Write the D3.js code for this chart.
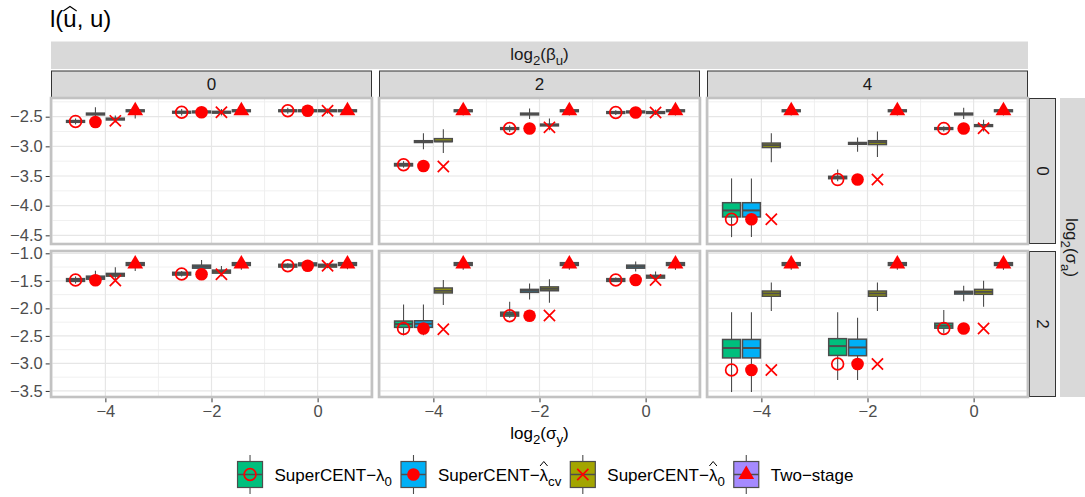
<!DOCTYPE html>
<html>
<head>
<meta charset="utf-8">
<script src="https://cdn.jsdelivr.net/npm/d3@7"></script>
<style>
  body { margin: 0; background: #fff; }
  svg text { font-family: "Liberation Sans", Arial, Helvetica, sans-serif; }
</style>
</head>
<body>
<div id="chart"></div>
<script>
// ── data ──
const sigmaYLevels = [-4, -2, 0];
const betaULevels = [0, 2, 4];
const sigmaALevels = [0, 2];
const methodFills = ['#00BF7D', '#00B0F6', '#A3A500', '#A58AFF'];
const methodShapes = ['openCircle', 'dot', 'cross', 'triangle'];
const xTicks = [-4, -2, 0];
const yTicksTop = [-4.5, -4.0, -3.5, -3.0, -2.5];
const yTicksBottom = [-3.5, -3.0, -2.5, -2.0, -1.5, -1.0];

// boxplot stats [lower whisker, q1, median, q3, upper whisker]
// per log2(sigma_y) group (-4, -2, 0), methods in legend order
const boxA0B0 = [
  [[-2.63, -2.595, -2.58, -2.565, -2.53], [-2.51, -2.47, -2.455, -2.44, -2.34], [-2.60, -2.555, -2.54, -2.525, -2.48], [-2.53, -2.415, -2.40, -2.385, -2.34]],
  [[-2.48, -2.44, -2.425, -2.41, -2.37], [-2.47, -2.435, -2.42, -2.405, -2.37], [-2.48, -2.44, -2.425, -2.41, -2.37], [-2.46, -2.415, -2.40, -2.385, -2.35]],
  [[-2.45, -2.415, -2.40, -2.385, -2.35], [-2.45, -2.415, -2.40, -2.385, -2.35], [-2.45, -2.415, -2.40, -2.385, -2.36], [-2.46, -2.415, -2.40, -2.385, -2.35]]
];
const ptsA0B0 = [[-2.58, -2.59, -2.57, -2.40], [-2.425, -2.425, -2.425, -2.40], [-2.40, -2.40, -2.40, -2.40]];

const boxA0B2 = [
  [[-3.36, -3.33, -3.31, -3.29, -3.25], [-3.05, -2.935, -2.92, -2.905, -2.78], [-3.11, -2.92, -2.915, -2.87, -2.71], [-2.48, -2.415, -2.40, -2.385, -2.35]],
  [[-2.76, -2.715, -2.70, -2.685, -2.65], [-2.54, -2.47, -2.455, -2.44, -2.36], [-2.73, -2.655, -2.64, -2.625, -2.53], [-2.48, -2.415, -2.40, -2.385, -2.35]],
  [[-2.47, -2.445, -2.43, -2.415, -2.39], [-2.46, -2.435, -2.42, -2.405, -2.37], [-2.47, -2.445, -2.43, -2.415, -2.38], [-2.48, -2.415, -2.40, -2.385, -2.35]]
];
const ptsA0B2 = [[-3.31, -3.33, -3.34, -2.40], [-2.70, -2.70, -2.68, -2.40], [-2.43, -2.43, -2.43, -2.40]];

const boxA0B4 = [
  [[-4.53, -4.19, -4.08, -3.95, -3.54], [-4.53, -4.19, -4.08, -3.95, -3.54], [-3.27, -3.02, -2.98, -2.945, -2.78], [-2.48, -2.415, -2.40, -2.385, -2.35]],
  [[-3.59, -3.545, -3.53, -3.505, -3.39], [-3.09, -2.965, -2.95, -2.935, -2.85], [-3.18, -2.97, -2.93, -2.905, -2.75], [-2.48, -2.415, -2.40, -2.385, -2.35]],
  [[-2.75, -2.715, -2.70, -2.685, -2.66], [-2.54, -2.47, -2.455, -2.44, -2.35], [-2.75, -2.665, -2.65, -2.635, -2.55], [-2.48, -2.415, -2.40, -2.385, -2.35]]
];
const ptsA0B4 = [[-4.23, -4.23, -4.23, -2.40], [-3.56, -3.56, -3.56, -2.40], [-2.70, -2.70, -2.695, -2.40]];

const boxA2B0 = [
  [[-1.55, -1.51, -1.485, -1.46, -1.42], [-1.50, -1.47, -1.443, -1.415, -1.315], [-1.50, -1.415, -1.39, -1.365, -1.255], [-1.32, -1.22, -1.195, -1.17, -1.13]],
  [[-1.42, -1.395, -1.37, -1.345, -1.32], [-1.29, -1.27, -1.243, -1.215, -1.12], [-1.42, -1.36, -1.333, -1.305, -1.23], [-1.30, -1.22, -1.195, -1.17, -1.13]],
  [[-1.27, -1.25, -1.225, -1.20, -1.18], [-1.25, -1.225, -1.20, -1.175, -1.15], [-1.27, -1.25, -1.225, -1.20, -1.18], [-1.29, -1.22, -1.195, -1.17, -1.13]]
];
const ptsA2B0 = [[-1.485, -1.49, -1.495, -1.195], [-1.375, -1.38, -1.38, -1.195], [-1.225, -1.225, -1.225, -1.195]];

const boxA2B2 = [
  [[-2.49, -2.345, -2.285, -2.23, -1.93], [-2.49, -2.345, -2.28, -2.225, -1.93], [-1.94, -1.72, -1.68, -1.63, -1.485], [-1.30, -1.22, -1.195, -1.17, -1.13]],
  [[-2.17, -2.14, -2.105, -2.07, -1.88], [-1.84, -1.71, -1.68, -1.655, -1.55], [-1.90, -1.68, -1.645, -1.61, -1.47], [-1.30, -1.22, -1.195, -1.17, -1.13]],
  [[-1.52, -1.51, -1.485, -1.46, -1.44], [-1.33, -1.27, -1.243, -1.215, -1.15], [-1.49, -1.45, -1.425, -1.40, -1.33], [-1.30, -1.22, -1.195, -1.17, -1.13]]
];
const ptsA2B2 = [[-2.365, -2.365, -2.38, -1.195], [-2.135, -2.135, -2.13, -1.195], [-1.485, -1.485, -1.485, -1.195]];

const boxA2B4 = [
  [[-3.52, -2.90, -2.72, -2.565, -2.07], [-3.52, -2.90, -2.72, -2.565, -2.07], [-2.05, -1.78, -1.73, -1.685, -1.53], [-1.30, -1.22, -1.195, -1.17, -1.13]],
  [[-3.30, -2.855, -2.685, -2.55, -2.07], [-3.30, -2.86, -2.71, -2.56, -2.17], [-2.05, -1.78, -1.73, -1.685, -1.53], [-1.30, -1.22, -1.195, -1.17, -1.13]],
  [[-2.455, -2.36, -2.315, -2.27, -2.03], [-1.87, -1.74, -1.715, -1.69, -1.59], [-1.97, -1.745, -1.70, -1.655, -1.50], [-1.30, -1.22, -1.195, -1.17, -1.13]]
];
const ptsA2B4 = [[-3.12, -3.12, -3.12, -1.195], [-3.01, -3.01, -3.01, -1.195], [-2.365, -2.365, -2.365, -1.195]];

const panelBoxes = [[boxA0B0, boxA0B2, boxA0B4], [boxA2B0, boxA2B2, boxA2B4]];
const panelPts = [[ptsA0B0, ptsA0B2, ptsA0B4], [ptsA2B0, ptsA2B2, ptsA2B4]];

// ── layout ──
const W = 1085, H = 497;
const panelLeft = 51, panelW = 321, colGap = 7;
const panelTops = [98, 251], panelH = 146;
const yDomains = [[-4.646, -2.185], [-3.61, -0.958]];
const yTickSets = [yTicksTop, yTicksBottom];
const RED = '#FF0000';
const BOX_LINE = '#4D4D4D';
const TICK_FONT = 16.5, STRIP_FONT = 17, LEG_FONT = 17;

const svg = d3.select('#chart').append('svg')
  .attr('width', W).attr('height', H);
svg.append('rect').attr('width', W).attr('height', H).attr('fill', '#fff');

const colLeft = ci => panelLeft + ci * (panelW + colGap);
const xScales = betaULevels.map((b, ci) =>
  d3.scaleLinear().domain([-5.025, 1.025]).range([colLeft(ci), colLeft(ci) + panelW]));
const yScales = sigmaALevels.map((a, ri) =>
  d3.scaleLinear().domain(yDomains[ri]).range([panelTops[ri] + panelH, panelTops[ri]]));

// dodge of the four methods inside one log2(sigma_y) group
const dodge = d3.scaleBand().domain(d3.range(4)).range([-0.75, 0.75]);
const boxWidth = dodge.bandwidth() * 0.9;

// text with subscripts: parts = [{t, sub}]
function richText(sel, parts, size) {
  let inSub = false;
  parts.forEach(p => {
    const ts = sel.append('tspan').text(p.t);
    if (p.sub && !inSub) { ts.attr('dy', size * 0.3).attr('font-size', size * 0.78); inSub = true; }
    else if (p.sub) { ts.attr('font-size', size * 0.78); }
    else if (inSub) { ts.attr('dy', -size * 0.3); inSub = false; }
  });
  return sel;
}

function drawPoint(g, shape, cx, cy) {
  if (shape === 'openCircle') {
    g.append('circle').attr('cx', cx).attr('cy', cy).attr('r', 5.9)
      .attr('fill', 'none').attr('stroke', RED).attr('stroke-width', 1.7);
  } else if (shape === 'dot') {
    g.append('circle').attr('cx', cx).attr('cy', cy).attr('r', 6.3).attr('fill', RED);
  } else if (shape === 'cross') {
    const s = 5.6;
    g.append('path')
      .attr('d', `M${cx - s},${cy - s}L${cx + s},${cy + s}M${cx + s},${cy - s}L${cx - s},${cy + s}`)
      .attr('stroke', RED).attr('stroke-width', 1.7).attr('fill', 'none');
  } else {
    g.append('path')
      .attr('d', d3.symbol().type(d3.symbolTriangle).size(108)())
      .attr('transform', `translate(${cx},${cy})`)
      .attr('fill', RED);
  }
}

// ── title ──
const title = svg.append('text').attr('x', 50).attr('y', 27)
  .attr('font-size', 24).attr('fill', '#000').text('l(u, u)');
{
  const node = title.node();
  const p = node.getStartPositionOfChar(2);
  const e = node.getEndPositionOfChar(2);
  const mid = (p.x + e.x) / 2;
  svg.append('path')
    .attr('d', `M${p.x},${p.y - 16}L${mid},${p.y - 20.5}L${e.x},${p.y - 16}`)
    .attr('fill', 'none').attr('stroke', '#000').attr('stroke-width', 1.1);
}

// ── outer strips ──
const gridRight = colLeft(2) + panelW;
svg.append('rect').attr('x', panelLeft).attr('y', 41.5)
  .attr('width', gridRight - panelLeft).attr('height', 27.5).attr('fill', '#D9D9D9');
richText(svg.append('text').attr('x', (panelLeft + gridRight) / 2).attr('y', 60)
  .attr('text-anchor', 'middle').attr('font-size', STRIP_FONT).attr('fill', '#1A1A1A'),
  [{ t: 'log' }, { t: '2', sub: true }, { t: '(β' }, { t: 'u', sub: true }, { t: ')' }], STRIP_FONT);

svg.append('rect').attr('x', 1060).attr('y', panelTops[0])
  .attr('width', 25).attr('height', panelTops[1] + panelH - panelTops[0]).attr('fill', '#D9D9D9');
richText(svg.append('text')
  .attr('transform', `translate(1066,${(panelTops[0] + panelTops[1] + panelH) / 2}) rotate(90)`)
  .attr('text-anchor', 'middle').attr('font-size', STRIP_FONT).attr('fill', '#1A1A1A'),
  [{ t: 'log' }, { t: '2', sub: true }, { t: '(σ' }, { t: 'a', sub: true }, { t: ')' }], STRIP_FONT);

// column strips
betaULevels.forEach((b, ci) => {
  svg.append('rect').attr('x', colLeft(ci) + 0.5).attr('y', 71)
    .attr('width', panelW - 1).attr('height', 26.5)
    .attr('fill', '#D9D9D9').attr('stroke', '#333').attr('stroke-width', 1);
  svg.append('text').attr('x', colLeft(ci) + panelW / 2).attr('y', 90)
    .attr('text-anchor', 'middle').attr('font-size', STRIP_FONT).attr('fill', '#1A1A1A').text(b);
});

// row strips
sigmaALevels.forEach((a, ri) => {
  svg.append('rect').attr('x', gridRight + 1.5).attr('y', panelTops[ri] + 0.5)
    .attr('width', 26).attr('height', panelH - 1)
    .attr('fill', '#D9D9D9').attr('stroke', '#333').attr('stroke-width', 1);
  svg.append('text')
    .attr('transform', `translate(${gridRight + 9},${panelTops[ri] + panelH / 2}) rotate(90)`)
    .attr('text-anchor', 'middle').attr('font-size', STRIP_FONT).attr('fill', '#1A1A1A').text(a);
});

// ── panels ──
sigmaALevels.forEach((a, ri) => {
  const y = yScales[ri];
  const yt = yTickSets[ri];
  const [d0, d1] = yDomains[ri];
  const yMinor = [];
  for (let i = 0; i < yt.length - 1; i++) yMinor.push((yt[i] + yt[i + 1]) / 2);
  if (yt[0] - 0.25 > d0) yMinor.push(yt[0] - 0.25);
  if (yt[yt.length - 1] + 0.25 < d1) yMinor.push(yt[yt.length - 1] + 0.25);

  betaULevels.forEach((b, ci) => {
    const x = xScales[ci];
    const g = svg.append('g');
    const [x0, x1] = x.range();
    const top = panelTops[ri];

    g.append('rect').attr('x', x0).attr('y', top).attr('width', panelW).attr('height', panelH).attr('fill', '#fff');

    // grid
    const xMinor = [-5, -3, -1, 1];
    g.selectAll('.xminor').data(xMinor).join('line')
      .attr('x1', d => x(d)).attr('x2', d => x(d)).attr('y1', top).attr('y2', top + panelH)
      .attr('stroke', '#EEEEEE').attr('stroke-width', 0.9);
    g.selectAll('.yminor').data(yMinor).join('line')
      .attr('x1', x0).attr('x2', x1).attr('y1', d => y(d)).attr('y2', d => y(d))
      .attr('stroke', '#EEEEEE').attr('stroke-width', 0.9);
    g.selectAll('.xmajor').data(xTicks).join('line')
      .attr('x1', d => x(d)).attr('x2', d => x(d)).attr('y1', top).attr('y2', top + panelH)
      .attr('stroke', '#E6E6E6').attr('stroke-width', 1.2);
    g.selectAll('.ymajor').data(yt).join('line')
      .attr('x1', x0).attr('x2', x1).attr('y1', d => y(d)).attr('y2', d => y(d))
      .attr('stroke', '#E6E6E6').attr('stroke-width', 1.2);

    const boxes = panelBoxes[ri][ci];
    const pts = panelPts[ri][ci];

    sigmaYLevels.forEach((sy, gi) => {
      boxes[gi].forEach((st, mi) => {
        const c = sy + dodge(mi) + dodge.bandwidth() / 2;
        const cx = x(c);
        const bx0 = x(c - boxWidth / 2), bx1 = x(c + boxWidth / 2);
        const [lo, q1, med, q3, hi] = st;
        g.append('line').attr('x1', cx).attr('x2', cx).attr('y1', y(hi)).attr('y2', y(q3))
          .attr('stroke', BOX_LINE).attr('stroke-width', 1.1);
        g.append('line').attr('x1', cx).attr('x2', cx).attr('y1', y(q1)).attr('y2', y(lo))
          .attr('stroke', BOX_LINE).attr('stroke-width', 1.1);
        g.append('rect').attr('x', bx0).attr('y', y(q3))
          .attr('width', bx1 - bx0).attr('height', y(q1) - y(q3))
          .attr('fill', methodFills[mi]).attr('stroke', BOX_LINE).attr('stroke-width', 1.5);
        g.append('line').attr('x1', bx0).attr('x2', bx1).attr('y1', y(med)).attr('y2', y(med))
          .attr('stroke', BOX_LINE).attr('stroke-width', 2);
      });
      pts[gi].forEach((v, mi) => {
        const c = sy + dodge(mi) + dodge.bandwidth() / 2;
        drawPoint(g, methodShapes[mi], x(c), y(v));
      });
    });

    g.append('rect').attr('x', x0).attr('y', top).attr('width', panelW).attr('height', panelH)
      .attr('fill', 'none').attr('stroke', '#C2C2C2').attr('stroke-width', 2.6);

    // y axis on first column
    if (ci === 0) {
      const ax = svg.append('g').attr('transform', `translate(${x0 - 1.3},0)`)
        .call(d3.axisLeft(y).tickValues(yt).tickFormat(d3.format('.1f')).tickSizeOuter(0).tickSize(4).tickPadding(3));
      ax.select('.domain').remove();
      ax.selectAll('line').attr('stroke', '#333').attr('stroke-width', 1);
      ax.selectAll('text').attr('font-size', TICK_FONT).attr('fill', '#4D4D4D')
        .style('font-family', '"Liberation Sans", Arial, sans-serif');
    }
    // x axis on bottom row
    if (ri === sigmaALevels.length - 1) {
      const ax = svg.append('g').attr('transform', `translate(0,${top + panelH + 1.3})`)
        .call(d3.axisBottom(x).tickValues(xTicks).tickFormat(d3.format('d')).tickSizeOuter(0).tickSize(4).tickPadding(3));
      ax.select('.domain').remove();
      ax.selectAll('line').attr('stroke', '#333').attr('stroke-width', 1);
      ax.selectAll('text').attr('font-size', TICK_FONT).attr('fill', '#4D4D4D')
        .style('font-family', '"Liberation Sans", Arial, sans-serif');
    }
  });
});

// x axis title
richText(svg.append('text').attr('x', (panelLeft + gridRight) / 2).attr('y', 439)
  .attr('text-anchor', 'middle').attr('font-size', STRIP_FONT).attr('fill', '#000'),
  [{ t: 'log' }, { t: '2', sub: true }, { t: '(σ' }, { t: 'y', sub: true }, { t: ')' }], STRIP_FONT);

// ── legend ──
const legendLabels = [
  [{ t: 'SuperCENT−λ' }, { t: '0', sub: true }],
  [{ t: 'SuperCENT−λ', hat: true }, { t: 'cv', sub: true }],
  [{ t: 'SuperCENT−λ', hat: true }, { t: '0', sub: true }],
  [{ t: 'Two−stage' }]
];
const keyW = 25, keyH = 26, keyTop = 461.5;
const legend = svg.append('g');
const items = legendLabels.map((parts, i) => {
  const gi = legend.append('g');
  const txt = richText(gi.append('text').attr('x', 0).attr('y', keyTop + 19)
    .attr('font-size', LEG_FONT).attr('fill', '#000'), parts, LEG_FONT);
  return { gi, txt, parts, w: txt.node().getComputedTextLength() };
});
const textGap = 12, itemGap = 9;
const totalW = d3.sum(items, it => keyW + textGap + it.w) + itemGap * (items.length - 1);
let lx = 545.5 - totalW / 2;
items.forEach((it, i) => {
  const kx = lx;
  const g = it.gi;
  const cx = kx + keyW / 2, cy = keyTop + keyH / 2;
  g.append('line').attr('x1', cx).attr('x2', cx).attr('y1', keyTop - 6.5).attr('y2', keyTop + keyH + 6.5)
    .attr('stroke', BOX_LINE).attr('stroke-width', 1.1);
  g.append('rect').attr('x', kx).attr('y', keyTop).attr('width', keyW).attr('height', keyH)
    .attr('fill', methodFills[i]).attr('stroke', BOX_LINE).attr('stroke-width', 1.2);
  g.append('line').attr('x1', kx).attr('x2', kx + keyW).attr('y1', cy).attr('y2', cy)
    .attr('stroke', BOX_LINE).attr('stroke-width', 1.5);
  drawPoint(g, methodShapes[i], cx, cy);
  it.txt.attr('x', kx + keyW + textGap);
  g.node().appendChild(it.txt.node());
  if (it.parts[0].hat) {
    const idx = it.parts[0].t.length - 1;
    const node = it.txt.node();
    const p = node.getStartPositionOfChar(idx);
    const e = node.getEndPositionOfChar(idx);
    const mid = (p.x + e.x) / 2;
    g.append('path')
      .attr('d', `M${p.x + 0.5},${p.y - 14.5}L${mid},${p.y - 19}L${e.x - 0.5},${p.y - 14.5}`)
      .attr('fill', 'none').attr('stroke', '#000').attr('stroke-width', 1);
  }
  lx += keyW + textGap + it.w + itemGap;
});
</script>
</body>
</html>
